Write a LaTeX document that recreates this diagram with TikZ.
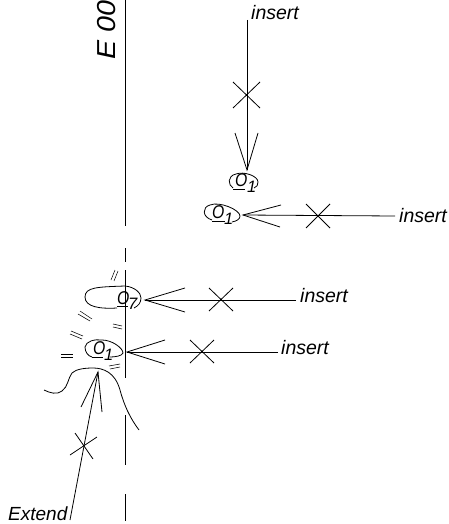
\documentclass[tikz,border=0pt]{standalone}
\usepackage{fontspec}
\setmainfont{Liberation Sans}
\tikzset{
  ln/.style={line width=0.8pt,black,line cap=butt},
  thin2/.style={line width=0.55pt,black},
  lbl/.style={inner sep=0pt,font=\fontsize{19.5}{22}\selectfont\itshape,anchor=base west},
  bigO/.style={inner sep=0pt,font=\fontsize{18.5}{20}\selectfont\itshape,anchor=base west},
  subO/.style={inner sep=0pt,font=\fontsize{16.5}{18}\selectfont\itshape,anchor=base west},
}
\begin{document}
\begin{tikzpicture}[x=1pt,y=-1pt]
\useasboundingbox (0,0) rectangle (449,524);
% centre line
\draw[ln] (125,0) -- (125,226);
\draw[ln] (125,248) -- (125,262);
\draw[ln] (125,270) -- (125,378);
\draw[ln] (125,415) -- (125,465);
\draw[ln] (125,494) -- (125,521);
% rotated text
\node[inner sep=0pt,anchor=base west,rotate=90,font=\fontsize{26}{30}\selectfont\itshape] (title) at (115,60) {\scalebox{1.1}[1]{E 00}};
% labels
\node[lbl] (ins1) at (251,20) {insert};
\node[lbl] (ins2) at (399,222) {insert};
\node[lbl] (ins3) at (300,302) {insert};
\node[lbl] (ins4) at (281,354) {insert};
\node[lbl,font=\fontsize{19}{22}\selectfont\itshape] (ext) at (8,520) {Extend};
% balloon texts
\node[bigO] (o1) at (235,186) {\scalebox{0.85}[1]{O}};
\node[subO] (o1s) at (247,192) {1};
\node[bigO] (o2) at (212,218) {\scalebox{0.85}[1]{O}};
\node[subO] (o2s) at (224,224) {1};
\node[bigO] (o3) at (117,304) {\scalebox{0.85}[1]{O}};
\node[subO] (o3s) at (128,309) {7};
\node[bigO] (o4) at (93,354) {\scalebox{0.85}[1]{O}};
\node[subO] (o4s) at (104,360) {1};
\draw[ln] (233,189) -- (245,189);
\draw[ln] (212,221) -- (225,221);
\draw[ln] (117,306.5) -- (128,306.5);
\draw[ln] (92,357) -- (103,357);
% leader coordinates
\coordinate (t1) at (247,170);
\coordinate (s1) at (247,20);
\coordinate (t2) at (243,215);
\coordinate (s2) at (395,216);
\coordinate (t3) at (145,300);
\coordinate (s3) at (296,300);
\coordinate (t4) at (127,352);
\coordinate (s4) at (278,352);
\coordinate (t5) at (98,372);
\coordinate (s5) at (70,520);
\draw[ln] (s1) -- (t1);
\draw[ln] (235,133) -- (t1) -- (258,133);
\draw[ln] (233,82) -- (260,108) (260,82) -- (233,108);
\draw[ln] (s2) -- (t2);
\draw[ln] (281,205) -- (t2) -- (280,227);
\draw[ln] (306,204) -- (330,228) (330,204) -- (306,228);
\draw[ln] (s3) -- (t3);
\draw[ln] (185,288) -- (t3) -- (185,312);
\draw[ln] (209,288) -- (233,311) (233,288) -- (209,311);
\draw[ln] (s4) -- (t4);
\draw[ln] (165,340) -- (t4) -- (165,364);
\draw[ln] (190,340) -- (214,363) (214,340) -- (190,363);
\draw[ln] (s5) -- (t5);
\draw[ln] (81,407) -- (t5) -- (102,412);
\draw[ln] (75,433) -- (93,459) (70,455) -- (97,437);
% balloons
\draw[ln] (233,188) .. controls (228,185) and (227,176) .. (236,174) .. controls (244,171) and (258,176) .. (258,182) .. controls (258,185) and (257,187) .. (254,188);
\draw[ln] (212,220) .. controls (202,217) and (202,207) .. (210,205) .. controls (220,201) and (240,210) .. (240,216) .. controls (240,219) and (237,221) .. (232,222);
\draw[ln] (117,308) .. controls (100,309) and (85,307) .. (85,297) .. controls (85,287) and (98,287) .. (125,286) .. controls (135,287) and (141,293) .. (141,298) .. controls (141,303) and (138,306) .. (134,308);
\draw[ln] (92,357) .. controls (88,356) and (85,352) .. (85,347) .. controls (86,341) and (95,339) .. (102,340) .. controls (112,340) and (123,348) .. (123,353) .. controls (122,356) and (115,357) .. (110,357);
% bump
\draw[ln] (44,390) .. controls (50,393) and (57,395) .. (62,391) .. controls (68,387) and (68,378) .. (72,373) .. controls (76,369) and (85,368) .. (93,368) .. controls (103,368) and (115,372) .. (120,390) .. controls (124,405) and (130,418) .. (139,430);
% ticks
\draw[thin2] (111,280) -- (115,270) (114,281) -- (118,271);
\draw[thin2] (80,311) -- (92,319) (78,314) -- (90,321);
\draw[thin2] (113,324) -- (122,326) (113,327) -- (122,329);
\draw[thin2] (71,331) -- (83,336) (70,334) -- (82,339);
\draw[thin2] (61,354) -- (73,354) (61,357) -- (73,357);
\draw[thin2] (109,366) -- (120,364) (110,369) -- (120,367);
\end{tikzpicture}
\end{document}
